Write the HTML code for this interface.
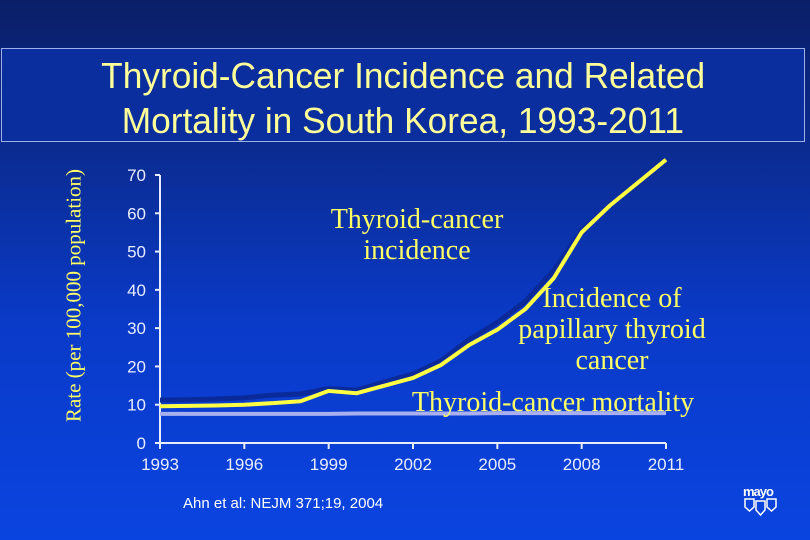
<!DOCTYPE html>
<html><head><meta charset="utf-8"><style>
html,body{margin:0;padding:0}
body{width:810px;height:540px;overflow:hidden;background:linear-gradient(180deg,#0b1f68 0%,#0b2a8c 25%,#0a3ac8 60%,#0a44e0 100%);font-family:"Liberation Sans",sans-serif;position:relative}
#title{position:absolute;left:1px;top:48px;width:804px;height:94px;border:1px solid #9fb0e8;background:#0a2e9e;color:#ffff99;font-size:36px;text-align:center;line-height:45px;box-sizing:border-box;padding-top:4px}
#title span{display:inline-block;transform:scaleX(0.98)}
.lbl{position:absolute;font-family:"Liberation Serif",serif;color:#ffff66;font-size:28px;text-align:center;line-height:31px}
</style></head><body>
<div id="title"><span>Thyroid-Cancer Incidence and Related</span><br><span>Mortality in South Korea, 1993-2011</span></div>
<svg id="chart" width="810" height="540" style="position:absolute;left:0;top:0"></svg>
<div class="lbl" style="left:297px;top:204px;width:240px">Thyroid-cancer<br>incidence</div>
<div class="lbl" style="left:492px;top:283px;width:240px">Incidence of<br>papillary thyroid<br>cancer</div>
<div class="lbl" style="left:393px;top:387px;width:320px">Thyroid-cancer mortality</div>
<div style="position:absolute;left:183px;top:495px;color:#fff;font-size:15px">Ahn et al: NEJM 371;19, 2004</div>
<div style="position:absolute;left:743px;top:484px;color:#fff;font-size:13px;font-weight:bold;letter-spacing:-1px">mayo</div>
<svg style="position:absolute;left:744px;top:498px" width="34" height="18"><path d="M1 1h9v8l-4.5 4-4.5-4z M12 3h9v9l-4.5 5-4.5-5z M23 1h9v8l-4.5 4-4.5-4z" fill="none" stroke="#fff" stroke-width="1.5"/></svg>
<div style="position:absolute;left:-71px;top:283px;width:290px;transform:rotate(-90deg);text-align:center;font-family:'Liberation Serif',serif;color:#ffff66;font-size:21px">Rate (per 100,000 population)</div>
<script>
const years=[1993,1994,1995,1996,1997,1998,1999,2000,2001,2002,2003,2004,2005,2006,2007,2008,2009,2010,2011];
const incidence=[9.6,9.7,9.8,10.0,10.4,10.9,13.6,13.0,15.0,17.0,20.4,25.6,29.6,35,43,55,62,68,74];
const papillary=[11.2,11.3,11.5,11.8,12.5,12.8,14.2,13.8,16,18,21.5,27,31.5,37,45,55.5,62,68,74];
const mortality=[7.6,7.6,7.6,7.6,7.6,7.6,7.6,7.7,7.7,7.7,7.7,7.7,7.8,7.8,7.8,7.8,7.8,7.8,7.8];
const yTicks=[0,10,20,30,40,50,60,70];
const xTicks=[1993,1996,1999,2002,2005,2008,2011];
const X=v=>160+(v-1993)*(666-160)/18;
const Y=v=>443-v*(443-175)/70;
const svg=document.getElementById('chart');
const NS='http://www.w3.org/2000/svg';
function mk(t,a){const e=document.createElementNS(NS,t);for(const k in a)e.setAttribute(k,a[k]);svg.appendChild(e);return e;}
let e=mk('line',{x1:160,y1:Y(70),x2:160,y2:443,stroke:'#e8ecff','stroke-width':2});


e=mk('line',{x1:160,y1:443,x2:666,y2:443,stroke:'#e8ecff','stroke-width':2});


yTicks.forEach(v=>{
 mk('line',{x1:155,y1:Y(v),x2:160,y2:Y(v),stroke:'#e8ecff','stroke-width':2});
 const t=mk('text',{x:146,y:Y(v)+6,'text-anchor':'end',fill:'#e8ecff','font-size':17,'font-family':'Liberation Sans, sans-serif'});
 t.textContent=v;
 
 
});
xTicks.forEach(v=>{
 mk('line',{x1:X(v),y1:443,x2:X(v),y2:449,stroke:'#e8ecff','stroke-width':2});
 const t=mk('text',{x:X(v),y:470,'text-anchor':'middle',fill:'#e8ecff','font-size':17,'font-family':'Liberation Sans, sans-serif'});
 t.textContent=v;
 
 
});
function line(arr,color,w,name){
 const p=mk('polyline',{points:arr.map((v,i)=>X(years[i])+','+Y(v)).join(' '),fill:'none',stroke:color,'stroke-width':w,'stroke-linejoin':'round'});
 
 
}
line(mortality,'#a8b0f0',4,'mortality-line');
line(papillary,'#0a2a9a',5,'papillary-line');
line(incidence,'#ffff44',4,'incidence-line');
</script>
</body></html>
